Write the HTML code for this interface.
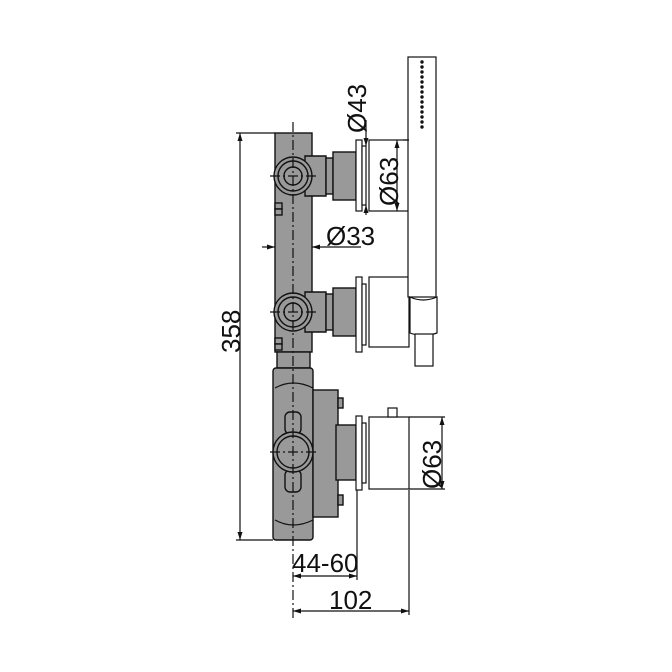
<!DOCTYPE html>
<html><head><style>html,body{margin:0;padding:0;background:#fff}svg{display:block}</style></head>
<body>
<svg width="672" height="672" viewBox="0 0 672 672" xmlns="http://www.w3.org/2000/svg" font-family="Liberation Sans, sans-serif">
<g stroke="#111" stroke-width="1.4" fill="#999">
<rect x="275" y="133" width="37" height="219"/>
<rect x="277" y="352" width="33" height="16"/>
<path d="M305 156 H326 V196 H305 Z"/>
<rect x="326" y="158" width="7" height="36"/>
<rect x="333" y="152" width="23" height="48"/>
<circle cx="293" cy="176" r="19"/>
<circle cx="293" cy="176" r="15"/>
<circle cx="293" cy="176" r="9"/>
<path d="M305 292 H326 V332 H305 Z"/>
<rect x="326" y="294" width="7" height="36"/>
<rect x="333" y="288" width="23" height="48"/>
<circle cx="293" cy="312" r="19"/>
<circle cx="293" cy="312" r="15"/>
<circle cx="293" cy="312" r="9"/>
<rect x="275" y="203" width="7" height="6"/><rect x="275" y="209" width="7" height="6"/>
<rect x="275" y="338" width="7" height="6"/><rect x="275" y="344" width="7" height="6"/>
<rect x="273" y="368" width="40" height="172" rx="3"/>
<rect x="313" y="390" width="25" height="127"/>
<rect x="336" y="425" width="20" height="55"/>
<rect x="338" y="398" width="5" height="10"/><rect x="338" y="495" width="5" height="10"/>
<rect x="285" y="412" width="16" height="22" rx="5"/>
<rect x="285" y="470" width="16" height="22" rx="5"/>
<circle cx="293" cy="452" r="20"/>
<circle cx="293" cy="452" r="16"/>
</g>
<g stroke="#111" stroke-width="1.2" fill="none">
<path d="M275 388 Q293 378 313 388 M275 520 Q293 530 313 520"/>
<g fill="#fff">
<rect x="356" y="140" width="6" height="71"/><rect x="362" y="146" width="4" height="59"/>
<rect x="369" y="140" width="40" height="71"/>
<rect x="356" y="277" width="6" height="75"/><rect x="362" y="284" width="4" height="61"/>
<rect x="369" y="277" width="40" height="70"/>
<rect x="408" y="57" width="28" height="240"/>
<path d="M410 297 Q423 303 437 297 V333 Q423 338 410 333 Z"/>
<rect x="415" y="334" width="18" height="32"/>
<rect x="356" y="416" width="6" height="74"/><rect x="362" y="423" width="4" height="60"/>
<rect x="369" y="417" width="40" height="72"/>
<rect x="388" y="408" width="9" height="9"/>
</g>
<g stroke-dasharray="10,3,2,3">
<line x1="293" y1="122" x2="293" y2="620"/>
<line x1="270" y1="176" x2="316" y2="176"/>
<line x1="270" y1="312" x2="316" y2="312"/>
<line x1="270" y1="452" x2="316" y2="452"/>
</g>
<line x1="236" y1="133" x2="275" y2="133"/>
<line x1="236" y1="540" x2="273" y2="540"/>
<line x1="240" y1="133" x2="240" y2="540"/>
<line x1="262" y1="247" x2="275" y2="247"/>
<line x1="312" y1="247" x2="361" y2="247"/>
<line x1="366" y1="120" x2="366" y2="146"/>
<line x1="366" y1="205" x2="366" y2="215"/>
<line x1="409" y1="140" x2="403" y2="140"/><line x1="397" y1="140" x2="397" y2="211"/>
<line x1="409" y1="417" x2="445" y2="417"/><line x1="409" y1="489" x2="445" y2="489"/>
<line x1="442" y1="417" x2="442" y2="489"/>
<line x1="357" y1="490" x2="357" y2="580"/>
<line x1="409" y1="490" x2="409" y2="615"/>
<line x1="293" y1="576" x2="357" y2="576"/>
<line x1="293" y1="611" x2="409" y2="611"/>
</g>
<g fill="#111">
<circle cx="422" cy="62" r="1.7"/><circle cx="422" cy="67" r="1.7"/><circle cx="422" cy="72" r="1.7"/><circle cx="422" cy="77" r="1.7"/><circle cx="422" cy="82" r="1.7"/><circle cx="422" cy="87" r="1.7"/><circle cx="422" cy="92" r="1.7"/><circle cx="422" cy="97" r="1.7"/><circle cx="422" cy="102" r="1.7"/><circle cx="422" cy="107" r="1.7"/><circle cx="422" cy="112" r="1.7"/><circle cx="422" cy="117" r="1.7"/><circle cx="422" cy="122" r="1.7"/><circle cx="422" cy="127" r="1.7"/>
<path d="M240 133 l-2.5 8 h5 Z M240 540 l-2.5 -8 h5 Z"/>
<path d="M275 247 l-8 -2.5 v5 Z M312 247 l8 -2.5 v5 Z"/>
<path d="M397 140 l-2.5 8 h5 Z M397 211 l-2.5 -8 h5 Z"/>
<path d="M442 417 l-2.5 8 h5 Z M442 489 l-2.5 -8 h5 Z"/>
<path d="M366 146 l-2.5 -8 h5 Z M366 205 l-2.5 8 h5 Z"/>
<path d="M293 576 l8 -2.5 v5 Z M357 576 l-8 -2.5 v5 Z"/>
<path d="M293 611 l8 -2.5 v5 Z M409 611 l-8 -2.5 v5 Z"/>
</g>
<g fill="#111" font-size="26">
<text transform="translate(240,353) rotate(-90)">358</text>
<text transform="translate(366,133) rotate(-90)">Ø43</text>
<text transform="translate(398,206) rotate(-90)">Ø63</text>
<text transform="translate(441,489) rotate(-90)">Ø63</text>
<text x="326" y="245">Ø33</text>
<text x="292" y="572">44-60</text>
<text x="329" y="609">102</text>
</g>
</svg>
</body></html>
